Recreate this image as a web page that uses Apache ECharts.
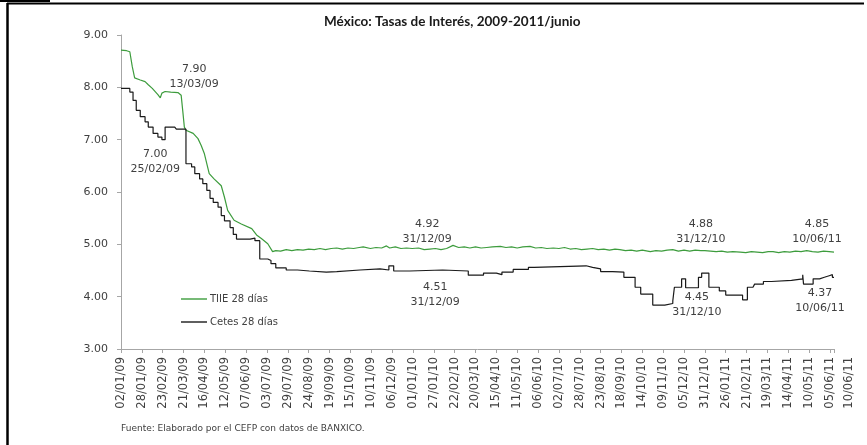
<!DOCTYPE html>
<html>
<head>
<meta charset="utf-8">
<script src="https://cdn.jsdelivr.net/npm/echarts@6/dist/echarts.min.js"></script>
<style>
html, body { margin: 0; padding: 0; background: #fff; }
#chart { width: 867px; height: 445px; }
</style>
</head>
<body>
<div id="chart"></div>
<script>
// tick labels on the date axis (every 26 days, plus the last day)
var tickLabels = ['02/01/09', '28/01/09', '23/02/09', '21/03/09', '16/04/09', '12/05/09', '07/06/09',
    '03/07/09', '29/07/09', '24/08/09', '19/09/09', '15/10/09', '10/11/09', '06/12/09', '01/01/10',
    '27/01/10', '22/02/10', '20/03/10', '15/04/10', '11/05/10', '06/06/10', '02/07/10', '28/07/10',
    '23/08/10', '18/09/10', '14/10/10', '09/11/10', '05/12/10', '31/12/10', '26/01/11', '21/02/11',
    '19/03/11', '14/04/11', '10/05/11', '05/06/11', '10/06/11'];

var yTicks = [3, 9, 1]; // min, max, step

// TIIE 28 dias
var tiieDates = ['02/01/09', '09/01/09', '13/01/09', '16/01/09', '19/01/09', '26/01/09', '01/02/09',
    '05/02/09', '10/02/09', '17/02/09', '20/02/09', '22/02/09', '26/02/09', '05/03/09', '14/03/09',
    '18/03/09', '20/03/09', '22/03/09', '24/03/09', '02/04/09', '08/04/09', '12/04/09', '16/04/09',
    '22/04/09', '28/04/09', '07/05/09', '11/05/09', '15/05/09', '23/05/09', '01/06/09', '14/06/09',
    '20/06/09', '26/06/09', '04/07/09', '10/07/09', '14/07/09', '20/07/09', '27/07/09', '03/08/09',
    '10/08/09', '17/08/09', '24/08/09', '31/08/09', '07/09/09', '14/09/09', '21/09/09', '28/09/09',
    '05/10/09', '12/10/09', '19/10/09', '26/10/09', '31/10/09', '09/11/09', '16/11/09', '23/11/09',
    '29/11/09', '03/12/09', '10/12/09', '17/12/09', '24/12/09', '31/12/09', '08/01/10', '15/01/10',
    '22/01/10', '29/01/10', '05/02/10', '12/02/10', '20/02/10', '27/02/10', '06/03/10', '13/03/10',
    '20/03/10', '27/03/10', '03/04/10', '10/04/10', '20/04/10', '27/04/10', '04/05/10', '11/05/10',
    '18/05/10', '27/05/10', '03/06/10', '10/06/10', '17/06/10', '25/06/10', '02/07/10', '09/07/10',
    '16/07/10', '23/07/10', '30/07/10', '06/08/10', '13/08/10', '20/08/10', '27/08/10', '03/09/10',
    '10/09/10', '16/09/10', '23/09/10', '30/09/10', '07/10/10', '14/10/10', '24/10/10', '31/10/10',
    '07/11/10', '14/11/10', '21/11/10', '28/11/10', '05/12/10', '12/12/10', '19/12/10', '26/12/10',
    '31/12/10', '07/01/11', '14/01/11', '21/01/11', '28/01/11', '04/02/11', '13/02/11', '20/02/11',
    '27/02/11', '06/03/11', '13/03/11', '20/03/11', '26/03/11', '02/04/11', '09/04/11', '16/04/11',
    '23/04/11', '30/04/11', '07/05/11', '14/05/11', '21/05/11', '28/05/11', '04/06/11', '10/06/11'];
var tiieValues = [8.71, 8.70, 8.68, 8.40, 8.18, 8.14, 8.11,
    8.05, 7.98, 7.86, 7.80, 7.89, 7.92, 7.91, 7.90,
    7.85, 7.55, 7.24, 7.18, 7.12, 7.02, 6.89, 6.73,
    6.35, 6.25, 6.12, 5.90, 5.65, 5.46, 5.39, 5.30,
    5.18, 5.11, 5.01, 4.86, 4.88, 4.87, 4.90, 4.88,
    4.90, 4.89, 4.91, 4.90, 4.92, 4.90, 4.92, 4.93,
    4.91, 4.93, 4.92, 4.94, 4.95, 4.92, 4.94, 4.93,
    4.97, 4.93, 4.95, 4.92, 4.93, 4.92, 4.93, 4.90,
    4.91, 4.92, 4.90, 4.92, 4.98, 4.94, 4.95, 4.93,
    4.95, 4.93, 4.94, 4.95, 4.96, 4.94, 4.95, 4.93,
    4.95, 4.96, 4.93, 4.94, 4.92, 4.93, 4.92, 4.94,
    4.91, 4.92, 4.90, 4.91, 4.92, 4.90, 4.91, 4.89,
    4.91, 4.90, 4.88, 4.89, 4.87, 4.89, 4.86, 4.88,
    4.87, 4.89, 4.90, 4.87, 4.89, 4.87, 4.89, 4.88,
    4.88, 4.87, 4.86, 4.87, 4.85, 4.86, 4.85, 4.84,
    4.86, 4.85, 4.84, 4.86, 4.86, 4.84, 4.86, 4.85,
    4.87, 4.86, 4.88, 4.86, 4.85, 4.87, 4.86, 4.85];

// Cetes 28 dias (weekly auction, value holds until next change)
var cetesDates = ['02/01/09', '13/01/09', '17/01/09', '21/01/09', '26/01/09', '01/02/09', '05/02/09',
    '11/02/09', '17/02/09', '22/02/09', '26/02/09', '10/03/09', '12/03/09', '24/03/09', '31/03/09',
    '04/04/09', '10/04/09', '14/04/09', '19/04/09', '23/04/09', '27/04/09', '03/05/09', '07/05/09',
    '11/05/09', '18/05/09', '22/05/09', '26/05/09', '12/06/09', '18/06/09', '24/06/09', '04/07/09',
    '08/07/09', '14/07/09', '27/07/09', '10/08/09', '25/08/09', '15/09/09', '28/09/09', '27/10/09',
    '21/11/09', '02/12/09', '08/12/09', '28/12/09', '07/02/10', '11/03/10', '30/03/10', '15/04/10',
    '22/04/10', '06/05/10', '25/05/10', '01/06/10', '05/08/10', '13/08/10', '23/08/10', '07/09/10',
    '21/09/10', '05/10/10', '12/10/10', '27/10/10', '11/11/10', '21/11/10', '23/11/10', '02/12/10',
    '07/12/10', '23/12/10', '27/12/10', '05/01/11', '18/01/11', '26/01/11', '16/02/11', '22/02/11',
    '01/03/11', '03/03/11', '14/03/11', '24/03/11', '18/04/11', '02/05/11', '03/05/11', '15/05/11',
    '23/05/11', '29/05/11', '04/06/11', '08/06/11', '10/06/11'];
var cetesValues = [7.98, 7.91, 7.75, 7.56, 7.44, 7.34, 7.24,
    7.12, 7.05, 7.00, 7.24, 7.26, 7.20, 6.54, 6.48,
    6.35, 6.25, 6.16, 6.03, 5.88, 5.80, 5.71, 5.55,
    5.45, 5.32, 5.19, 5.10, 5.12, 5.07, 4.72, 4.69,
    4.63, 4.55, 4.51, 4.49, 4.47, 4.48, 4.51, 4.53,
    4.51, 4.59, 4.49, 4.51, 4.49, 4.41, 4.45, 4.42,
    4.47, 4.52, 4.56, 4.59, 4.56, 4.53, 4.48, 4.47,
    4.37, 4.18, 4.05, 3.84, 3.87, 3.92, 4.18, 4.34,
    4.17, 4.37, 4.45, 4.18, 4.11, 4.03, 3.94, 4.18,
    4.21, 4.24, 4.29, 4.31, 4.34, 4.42, 4.24, 4.34,
    4.37, 4.40, 4.42, 4.37, 4.37];

// annotated values
var tiieNoteDates = ['13/03/09', '31/12/09', '31/12/10', '10/06/11'];
var tiieNoteValues = [7.90, 4.92, 4.88, 4.85];
var cetesNoteDates = ['25/02/09', '31/12/09', '31/12/10', '10/06/11'];
var cetesNoteValues = [7.00, 4.51, 4.45, 4.37];

// label offsets (px) for the annotations above
var tiieNoteOffsets = [[17, -16], [15, -17], [-4, -19], [-17, -21]];
var cetesNoteOffsets = [[-9, 22], [23, 25], [-8, 32], [-14, 23]];

var START = Date.UTC(2009, 0, 2);
function dayOf(s) {
    var p = s.split('/').map(Number);
    return Math.round((Date.UTC(2000 + p[2], p[1] - 1, p[0]) - START) / 864e5);
}
function pairs(dates, values) {
    return dates.map(function (d, i) { return [dayOf(d), values[i]]; });
}
function notes(dates, values, offsets) {
    return dates.map(function (d, i) {
        return {
            coord: [dayOf(d), values[i]],
            label: { offset: offsets[i], formatter: values[i].toFixed(2) + '\n' + d }
        };
    });
}

var TICK_STEP = 26;
var LAST_DAY = dayOf(tickLabels[tickLabels.length - 1]);
var FONT = '"DejaVu Sans", Verdana, sans-serif';
var TXT = '#404040';
var AXIS = '#a6a6a6';

var noteLabel = {
    show: true,
    position: 'inside',
    color: TXT,
    fontFamily: FONT,
    fontSize: 11,
    lineHeight: 15
};

var chart = echarts.init(document.getElementById('chart'), null, { renderer: 'canvas' });
chart.setOption({
    animation: false,
    backgroundColor: '#fff',
    title: [{
        text: 'México: Tasas de Interés, 2009-2011/junio',
        left: 319,
        top: 10,
        textStyle: { fontFamily: 'Lato, "Open Sans", sans-serif', fontWeight: 'bold', fontSize: 13.5, color: '#1a1a1a' }
    }, {
        text: 'Fuente: Elaborado por el CEFP con datos de BANXICO.',
        left: 116,
        top: 419,
        textStyle: { fontFamily: FONT, fontWeight: 'normal', fontSize: 9, color: TXT }
    }],
    graphic: [
        { type: 'rect', shape: { x: 0, y: 0, width: 50, height: 2 }, style: { fill: '#000' } },
        { type: 'line', shape: { x1: 7, y1: 3.5, x2: 864, y2: 3.5 }, style: { stroke: '#000', lineWidth: 2 } },
        { type: 'line', shape: { x1: 7.5, y1: 3, x2: 7.5, y2: 445 }, style: { stroke: '#000', lineWidth: 2.5 } }
    ],
    legend: {
        orient: 'vertical',
        left: 176,
        top: 289,
        icon: 'path://M0,0H26V1.4H0Z',
        itemWidth: 26,
        itemHeight: 1.4,
        itemGap: 13,
        textStyle: { fontFamily: FONT, fontSize: 10, color: TXT, padding: [0, 0, 0, -2] },
        data: ['TIIE 28 días', 'Cetes 28 días']
    },
    grid: { left: 121, right: 33, top: 35, bottom: 96, containLabel: false },
    xAxis: {
        type: 'value',
        min: 0,
        max: LAST_DAY,
        interval: TICK_STEP,
        axisLine: { lineStyle: { color: AXIS, width: 1 } },
        axisTick: { length: 4, lineStyle: { color: AXIS } },
        splitLine: { show: false },
        axisLabel: {
            rotate: 90,
            margin: 8,
            hideOverlap: false,
            showMinLabel: true,
            showMaxLabel: true,
            color: TXT,
            fontFamily: FONT,
            fontSize: 11.5,
            formatter: function (v) {
                if (v >= LAST_DAY) return '{last|' + tickLabels[tickLabels.length - 1] + '}';
                return tickLabels[Math.round(v / TICK_STEP)];
            },
            rich: {
                last: { padding: [30, 0, 0, 0], color: TXT, fontFamily: FONT, fontSize: 11.5 }
            }
        }
    },
    yAxis: {
        type: 'value',
        min: yTicks[0],
        max: yTicks[1],
        interval: yTicks[2],
        axisLine: { show: true, lineStyle: { color: AXIS, width: 1 } },
        axisTick: { show: true, length: 4, lineStyle: { color: AXIS } },
        splitLine: { show: false },
        axisLabel: {
            margin: 13,
            color: TXT,
            fontFamily: FONT,
            fontSize: 11,
            formatter: function (v) { return v.toFixed(2); }
        }
    },
    series: [{
        name: 'TIIE 28 días',
        type: 'line',
        symbol: 'none',
        color: '#3d9c3d',
        lineStyle: { color: '#3d9c3d', width: 1.2 },
        data: pairs(tiieDates, tiieValues),
        markPoint: {
            symbol: 'circle',
            symbolSize: 0,
            label: noteLabel,
            data: notes(tiieNoteDates, tiieNoteValues, tiieNoteOffsets)
        }
    }, {
        name: 'Cetes 28 días',
        type: 'line',
        step: 'end',
        symbol: 'none',
        color: '#1a1a1a',
        lineStyle: { color: '#1a1a1a', width: 1.2 },
        data: pairs(cetesDates, cetesValues),
        markPoint: {
            symbol: 'circle',
            symbolSize: 0,
            label: noteLabel,
            data: notes(cetesNoteDates, cetesNoteValues, cetesNoteOffsets)
        }
    }]
});
</script>
</body>
</html>
